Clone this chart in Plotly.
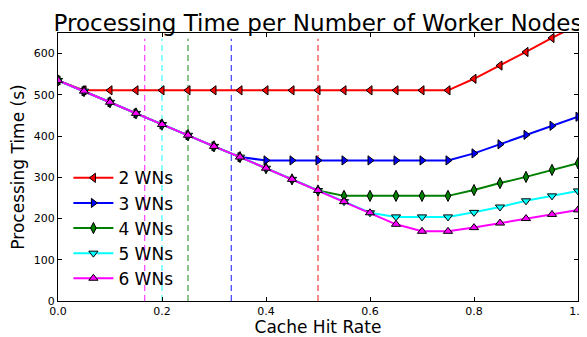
import plotly.graph_objects as go

hit_rate = [0.0, 0.05, 0.1, 0.15, 0.2, 0.25, 0.3, 0.35, 0.4, 0.45, 0.5,
            0.55, 0.6, 0.65, 0.7, 0.75, 0.8, 0.85, 0.9, 0.95, 1.0]

wn2 = [535, 511, 511, 511, 511, 511, 511, 511, 511, 511, 511,
       511, 511, 511, 511, 511, 539, 571, 604, 638, 670]
wn3 = [535, 509, 482, 455, 428, 402, 375, 349, 341, 341, 341,
       341, 341, 341, 341, 341, 358, 380, 403, 425, 447]
wn4 = [535, 509, 482, 455, 428, 402, 375, 349, 322, 295, 268,
       255, 255, 255, 255, 255, 269, 286, 301, 318, 334]
wn5 = [535, 509, 482, 455, 428, 402, 375, 349, 322, 295, 268,
       241, 214, 204, 204, 204, 215, 228, 243, 255, 267]
wn6 = [535, 509, 482, 455, 428, 402, 375, 349, 322, 295, 268,
       241, 214, 186, 169, 169, 178, 189, 200, 210, 221]

series_names = ["2 WNs", "3 WNs", "4 WNs", "5 WNs", "6 WNs"]
series_values = [wn2, wn3, wn4, wn5, wn6]
colors = ["#ff0000", "#0000ff", "#008000", "#00ffff", "#ff00ff"]
symbols = ["triangle-left", "triangle-right", "diamond-tall", "triangle-down", "triangle-up"]

# vertical dashed reference lines at 1/N for N = 6, 5, 4, 3, 2
vline_x = [1/6, 1/5, 1/4, 1/3, 1/2]
vline_colors = ["#ff00ff", "#00ffff", "#008000", "#0000ff", "#ff0000"]
vline_y = [0, 636]

fig = go.Figure()

for vx, vc in zip(vline_x, vline_colors):
    fig.add_trace(go.Scatter(
        x=[vx, vx], y=vline_y, mode="lines",
        line=dict(color=vc, width=1.3, dash="6px,4px"),
        opacity=0.7, showlegend=False, hoverinfo="skip"))

for name, vals, c, s in zip(series_names, series_values, colors, symbols):
    fig.add_trace(go.Scatter(
        x=hit_rate, y=vals, name=name, mode="lines+markers",
        line=dict(color=c, width=2),
        marker=dict(symbol=s, size=8, color=c, line=dict(color="black", width=1)),
        cliponaxis=True))

axis_common = dict(
    automargin=False,
    showgrid=False, zeroline=False, showline=True, linecolor="black", linewidth=1,
    mirror="ticks", ticks="inside", ticklen=4, tickcolor="black",
    tickfont=dict(family="DejaVu Sans", size=11, color="black"))

# page body has an 8px margin; figure sized to fill the remaining window
fig.update_layout(
    width=579, height=329,
    margin=dict(l=50, r=9, t=25, b=36, autoexpand=False),
    paper_bgcolor="white", plot_bgcolor="white",
    font=dict(family="DejaVu Sans", color="black"),
    title=dict(text="Processing Time per Number of Worker Nodes",
               xref="paper", x=0.5, xanchor="center",
               yref="container", y=0.955, yanchor="middle",
               font=dict(family="DejaVu Sans", size=23, color="black")),
    xaxis=dict(range=[0, 1], tickvals=[0, 0.2, 0.4, 0.6, 0.8, 1.0],
               ticktext=["0.0", "0.2", "0.4", "0.6", "0.8", "1.0"],
               title=dict(text="Cache Hit Rate", font=dict(size=17), standoff=1),
               **axis_common),
    yaxis=dict(range=[0, 650], tickvals=[0, 100, 200, 300, 400, 500, 600],
               title=dict(text="Processing Time (s)", font=dict(size=17), standoff=4),
               **axis_common),
    legend=dict(x=0.02, y=0.525, xanchor="left", yanchor="top",
                bgcolor="rgba(0,0,0,0)", borderwidth=0,
                font=dict(family="DejaVu Sans", size=17, color="black"),
                itemwidth=40, tracegroupgap=0),
    showlegend=True,
)

fig.write_html("out.html", config={"displayModeBar": False})
